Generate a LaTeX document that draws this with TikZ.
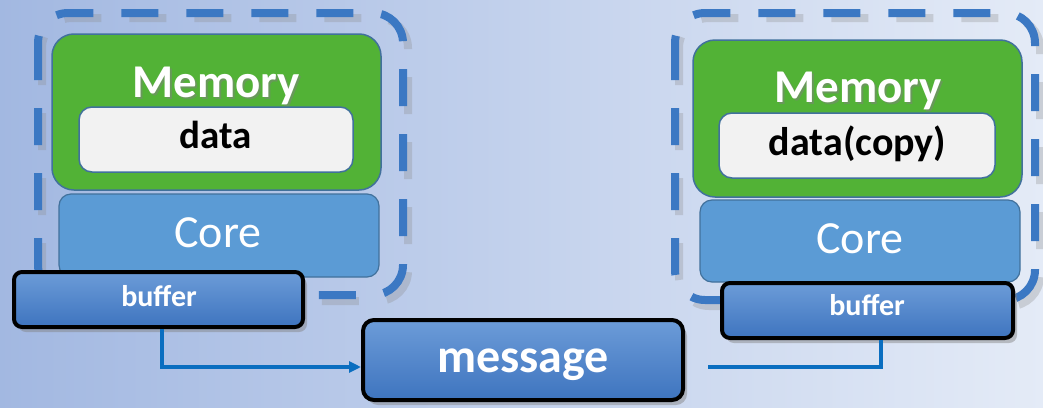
\documentclass[tikz,border=0pt]{standalone}
\usepackage{fontspec}
\setmainfont{Carlito}
\usetikzlibrary{shadows,arrows.meta,calc}

\definecolor{bgL}{HTML}{829FD6}
\definecolor{bgM}{HTML}{BCCCEA}
\definecolor{bgR}{HTML}{E8EEF8}
\definecolor{memgreen}{HTML}{52B236}
\definecolor{edgeblue}{HTML}{41719C}
\definecolor{coreblue}{HTML}{5B9BD5}
\definecolor{datagray}{HTML}{F2F2F2}
\definecolor{groupblue}{HTML}{3B78C3}
\definecolor{buftop}{HTML}{6C9CD8}
\definecolor{bufbot}{HTML}{3E74BF}
\definecolor{wire}{HTML}{0A6EC0}

\pgfdeclarehorizontalshading{backdrop}{100bp}{
  color(0bp)=(bgL); color(45bp)=(bgM); color(78bp)=(bgR); color(100bp)=(white)}

\tikzset{
  group/.style={draw=groupblue, line width=8pt, dash pattern=on 37pt off 28pt,
                rounded corners=30pt},
  groupshadow/.style={draw=black!45, opacity=0.3, line width=8pt,
                dash pattern=on 37pt off 28pt, rounded corners=30pt},
  membox/.style={draw=edgeblue, line width=1.5pt, fill=memgreen,
                 rounded corners=22pt, inner sep=0pt},
  databox/.style={draw=edgeblue, line width=1.5pt, fill=datagray,
                  rounded corners=13pt, inner sep=0pt},
  corebox/.style={draw=edgeblue, line width=1.2pt, fill=coreblue,
                  rounded corners=12pt, inner sep=0pt},
  bufbox/.style={draw=black, line width=4pt, top color=buftop, bottom color=bufbot,
                 rounded corners=8pt, inner sep=0pt,
                 drop shadow={shadow xshift=4pt, shadow yshift=-5pt, opacity=0.45}},
  msgbox/.style={bufbox, rounded corners=11pt},
  memtext/.style={text=white, font=\fontsize{47}{47}\selectfont\bfseries, anchor=base},
  datatext/.style={text=black, font=\fontsize{39}{39}\selectfont\bfseries, anchor=base},
  copytext/.style={text=black, font=\fontsize{40}{40}\selectfont\bfseries, anchor=base},
  coretext/.style={text=white, font=\fontsize{46}{46}\selectfont, anchor=base},
  buftext/.style={text=white, font=\fontsize{30}{30}\selectfont\bfseries, anchor=base},
  msgtext/.style={text=white, font=\fontsize{48}{48}\selectfont\bfseries, anchor=base},
  wireline/.style={draw=wire, line width=3.5pt},
}

\begin{document}
\begin{tikzpicture}[x=1pt,y=-1pt]
  % backdrop
  \shade[shading=backdrop] (0,0) rectangle (1043,407);
  \useasboundingbox (0,0) rectangle (1043,407);

  % ---------- left node ----------
  \draw[groupshadow] (42,18) rectangle (408,301);
  \draw[group] (38,13) rectangle (403,295);
  \node[membox, minimum width=329pt, minimum height=156pt] (memL) at (216.5,112) {};
  \node[memtext, text=black!50, opacity=0.5] at (218,99) {Memory};
  \node[memtext] (memLt) at (216,97) {Memory};
  \node[databox, minimum width=274pt, minimum height=65pt] (dataL) at (216,139.5) {};
  \node[datatext] (dataLt) at (216,148) {data};
  \node[corebox, minimum width=320pt, minimum height=83pt] (coreL) at (219,235.5) {};
  \node[coretext] (coreLt) at (218,247) {Core};
  \node[bufbox, minimum width=289pt, minimum height=55pt] (bufL) at (158.5,299.5) {};
  \node[buftext] (bufLt) at (159,306) {buffer};

  % ---------- right node ----------
  \draw[groupshadow] (679,18) rectangle (1040,306);
  \draw[group] (675,13) rectangle (1035,300);
  \node[membox, minimum width=329pt, minimum height=157pt] (memR) at (857.5,118.5) {};
  \node[memtext, text=black!50, opacity=0.5] at (860,104) {Memory};
  \node[memtext] (memRt) at (858,102) {Memory};
  \node[databox, minimum width=276pt, minimum height=65pt] (dataR) at (857,145.5) {};
  \node[copytext] (dataRt) at (857.5,155) {data(copy)};
  \node[corebox, minimum width=320pt, minimum height=82pt] (coreR) at (860,241) {};
  \node[coretext] (coreRt) at (860,253) {Core};
  \node[bufbox, minimum width=291pt, minimum height=55pt] (bufR) at (867.5,310.5) {};
  \node[buftext] (bufRt) at (867,315) {buffer};

  % ---------- message ----------
  \node[msgbox, minimum width=320pt, minimum height=80pt] (msg) at (523,360) {};
  \node[msgtext] (msgt) at (523,372) {message};

  % ---------- connectors ----------
  \coordinate (tapL) at (162,0);
  \coordinate (tapR) at (881,0);
  \coordinate (wireEnd) at (708,367);
  \draw[wireline, -{Triangle[length=12pt,width=11pt]}]
    (bufL.south -| tapL) |- ([yshift=-7pt]msg.west);
  \draw[wireline] (bufR.south -| tapR) |- (wireEnd);
\end{tikzpicture}
\end{document}
